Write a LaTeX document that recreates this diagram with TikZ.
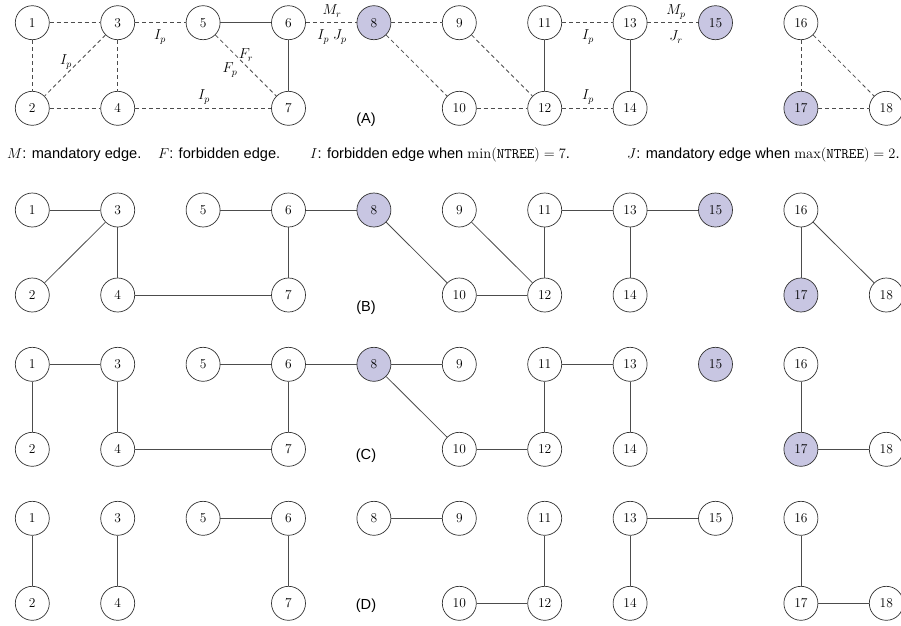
\documentclass[tikz,border=0pt]{standalone}
\usepackage{fontspec}
\setsansfont{Liberation Sans}
\definecolor{lav}{RGB}{200,198,226}
\begin{document}
\begin{tikzpicture}[x=1pt,y=-1pt,
  vtx/.style={circle,draw=black!80,line width=0.7pt,minimum size=34pt,inner sep=0pt,font=\fontsize{13.5}{13.5}\selectfont},
  edge/.style={draw=black!70,line width=0.8pt},
  dsh/.style={edge,dash pattern=on 4pt off 3pt},
  lab/.style={font=\fontsize{14.5}{14.5}\selectfont,inner sep=0pt},
  txt/.style={font=\sffamily\fontsize{14.6}{16}\selectfont,inner sep=0pt,anchor=west},
  rowcap/.style={font=\sffamily\fontsize{14.6}{16}\selectfont,inner sep=0pt}]
\useasboundingbox (0,0) rectangle (901,625);
\foreach \r/\yt/\yb/\s in {a/22.7/108.3/1, b/210/295/1, c/364.3/449.3/1, d/518.3/603.3/0} {
  \foreach \n/\k/\t/\f in {1/0/1/0, 3/1/1/0, 5/2/1/0, 6/3/1/0, 8/4/1/1, 9/5/1/0, 11/6/1/0, 13/7/1/0, 15/8/1/1, 16/9/1/0, 2/0/0/0, 4/1/0/0, 7/3/0/0, 10/5/0/0, 12/6/0/0, 14/7/0/0, 17/9/0/1, 18/10/0/0} {
    \pgfmathsetmacro\xx{32.3+85.4*\k}
    \pgfmathsetmacro\yy{\t==1 ? \yt : \yb}
    \pgfmathtruncatemacro\sh{\s*\f}
    \ifnum\sh=1 \def\fc{lav}\else\def\fc{white}\fi
    \node[vtx,fill=\fc] (\r\n) at (\xx,\yy) {\n};
  }
}
% (A)
\foreach \u/\v in {1/3,1/2,3/2,3/4,2/4,3/5,5/7,4/7,6/8,8/9,8/10,9/12,10/12,11/13,12/14,13/15,16/17,16/18,17/18}
  \draw[dsh] (a\u) -- (a\v);
\foreach \u/\v in {5/6,6/7,11/12,13/14}
  \draw[edge] (a\u) -- (a\v);
\node[lab] (l1) at (66,62) {$I_p$};
\node[lab] (l2) at (160,37) {$I_p$};
\node[lab] (l3) at (246,55) {$F_r$};
\node[lab] (l4) at (230,70) {$F_p$};
\node[lab] (l5) at (204,97) {$I_p$};
\node[lab] (l6) at (332,11) {$M_r$};
\node[lab] (l7) at (332,37) {$I_p\;J_p$};
\node[lab] (l8) at (588,37) {$I_p$};
\node[lab] (l9) at (588,97) {$I_p$};
\node[lab] (l10) at (676,12) {$M_p$};
\node[lab] (l11) at (676,37) {$J_r$};
\node[rowcap] (ca) at (366,120) {(A)};
% legend
\node[txt] (g1) at (7,155) {$M$: mandatory edge.};
\node[txt] (g2) at (158,155) {$F$: forbidden edge.};
\node[txt] (g3) at (310,155) {$I$: forbidden edge when $\min(\mathtt{NTREE})=7$.};
\node[txt] (g4) at (627,155) {$J$: mandatory edge when $\max(\mathtt{NTREE})=2$.};
% (B)
\foreach \u/\v in {1/3,3/2,3/4,4/7,5/6,6/7,6/8,8/10,9/12,10/12,11/12,11/13,13/15,13/14,16/17,16/18}
  \draw[edge] (b\u) -- (b\v);
\node[rowcap] (cb) at (366,308) {(B)};
% (C)
\foreach \u/\v in {1/3,1/2,3/4,4/7,5/6,6/7,6/8,8/9,8/10,11/12,10/12,11/13,13/14,16/17,17/18}
  \draw[edge] (c\u) -- (c\v);
\node[rowcap] (cc) at (366,456) {(C)};
% (D)
\foreach \u/\v in {1/2,3/4,5/6,6/7,8/9,11/12,10/12,13/15,13/14,16/17,17/18}
  \draw[edge] (d\u) -- (d\v);
\node[rowcap] (cd) at (366,606) {(D)};
\end{tikzpicture}
\end{document}
